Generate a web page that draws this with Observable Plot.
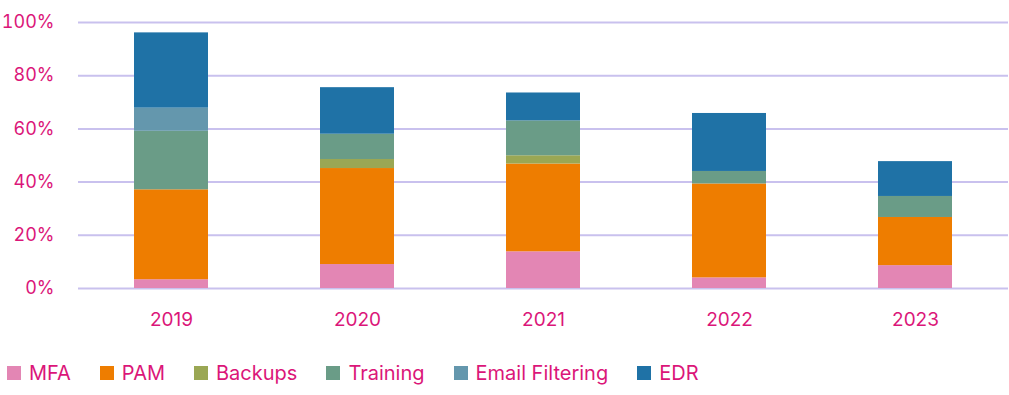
<!DOCTYPE html>
<html>
<head>
<meta charset="utf-8">
<script src="https://cdn.jsdelivr.net/npm/d3@7"></script>
<script src="https://cdn.jsdelivr.net/npm/@observablehq/plot@0.6"></script>
<style>
  html, body { margin: 0; padding: 0; background: #fff; }
  body { width: 1009px; height: 395px; overflow: hidden; font-family: Inter, "Open Sans", sans-serif; }
  #legend { display: flex; align-items: center; margin-top: 14px; padding-left: 7px; height: 28px; }
  .item { display: flex; align-items: center; margin-right: 29px; color: #DB1679; font-size: 20px; }
  .sw { width: 14px; height: 14px; margin-right: 8px; }
</style>
</head>
<body>
<div id="chart"></div>
<div id="legend"></div>
<script>
const years = ["2019", "2020", "2021", "2022", "2023"];
const seriesNames = ["MFA", "PAM", "Backups", "Training", "Email Filtering", "EDR"];
const seriesColors = ["#E386B4", "#EE7D00", "#9AA754", "#6A9C87", "#6497AD", "#1F72A6"];
const mfa = [3.3, 9.0, 13.8, 4.0, 8.6];
const pam = [33.8, 36.1, 33.0, 35.3, 18.1];
const backups = [0, 3.4, 3.1, 0, 0];
const training = [22.0, 9.5, 13.1, 4.7, 7.9];
const emailFiltering = [8.7, 0, 0, 0, 0];
const edr = [28.3, 17.5, 10.5, 21.8, 13.1];
const yTicks = [0, 20, 40, 60, 80, 100];

const seriesValues = [mfa, pam, backups, training, emailFiltering, edr];
const data = [];
years.forEach((yr, i) => {
  seriesNames.forEach((s, j) => {
    data.push({ year: yr, series: s, value: seriesValues[j][i] });
  });
});

const textColor = "#DB1679";
const chart = Plot.plot({
  width: 1009,
  height: 345,
  marginLeft: 78,
  marginRight: 1,
  marginTop: 22,
  marginBottom: 57,
  style: { fontFamily: "Inter, 'Open Sans', sans-serif", fontSize: "19px", color: textColor, background: "#fff", overflow: "visible" },
  x: { domain: years, paddingInner: 0.6, paddingOuter: 0.3, label: null },
  y: { domain: [0, 100], label: null },
  color: { domain: seriesNames, range: seriesColors },
  marks: [
    Plot.ruleY(yTicks, { stroke: "#C9C1EE", strokeWidth: 2 }),
    Plot.barY(data, { x: "year", y: "value", fill: "series", order: seriesNames }),
    Plot.axisY({ ticks: yTicks, tickFormat: d => d + "%", tickSize: 0, tickPadding: 24, fill: textColor, fontSize: 18, label: null }),
    Plot.axisX({ tickSize: 0, tickPadding: 24, fill: textColor, label: null })
  ]
});
document.getElementById("chart").appendChild(chart);

const legend = document.getElementById("legend");
seriesNames.forEach((s, j) => {
  const it = document.createElement("div");
  it.className = "item";
  const sw = document.createElement("span");
  sw.className = "sw";
  sw.style.background = seriesColors[j];
  const t = document.createElement("span");
  t.textContent = s;
  it.appendChild(sw);
  it.appendChild(t);
  legend.appendChild(it);
});
</script>
</body>
</html>
